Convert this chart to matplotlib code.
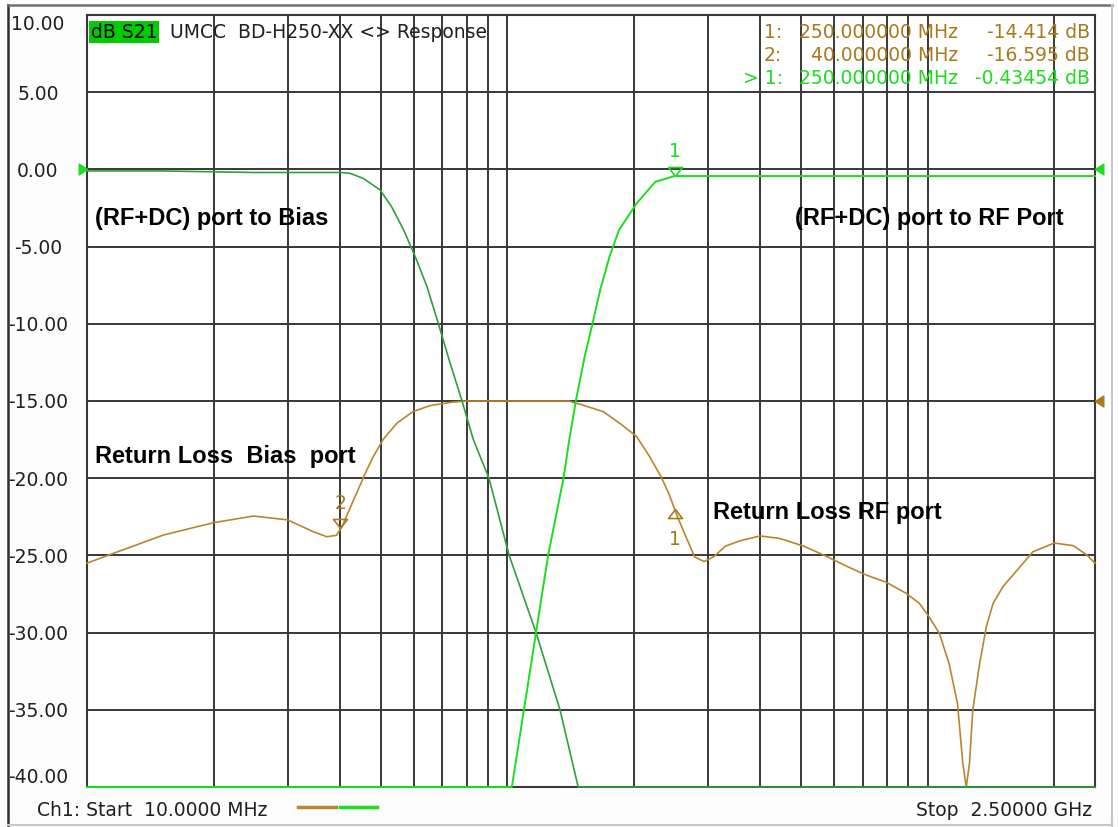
#VNA screenshot recreation: bias tee response
import numpy as np
import matplotlib
matplotlib.use("Agg")
import matplotlib.pyplot as plt
from matplotlib.lines import Line2D

W, H = 1118, 827

# frequency axis in MHz, levels in dB
bias_f = [10, 15, 25, 35, 40, 42.2, 45.4, 49.8, 53.0, 56.6, 60.4, 64.4, 68.5, 73.1,
          77.9, 83, 90.4, 101, 117, 133.4, 147.4, 2500]
bias_db = [-0.1, -0.1, -0.2, -0.2, -0.2, -0.25, -0.58, -1.33, -2.4, -3.9, -5.66, -7.6,
           -9.97, -12.56, -14.94, -17.5, -20, -25, -30, -35, -40, -40]

rf_f = [10, 102.5, 109.5, 117, 125, 136, 140.4, 145.5, 152.8, 159.4, 166.3, 175,
        184.3, 203, 225, 250, 2500]
rf_db = [-40, -40, -35, -30, -25, -20, -17.5, -15, -12.1, -10, -7.8, -5.65, -3.93,
         -2.2, -0.8, -0.43, -0.43]

rl_f = [10, 11.55, 15.2, 20, 24.9, 30, 34.5, 37.2, 39.2, 40.4, 43.8, 46.3, 48, 50.6,
        54.6, 59.6, 65.4, 73.7, 80, 140, 151, 169, 185, 203, 218, 232, 242, 254, 266,
        279, 294, 310, 330, 358, 399, 444, 507, 574, 641, 714, 797, 888, 955, 1007,
        1066, 1124, 1177, 1212, 1235, 1257, 1280, 1329, 1379, 1431, 1512, 1634, 1780,
        2000, 2220, 2390, 2500]
rl_db = [-25.5, -24.87, -23.68, -22.88, -22.45, -22.7, -23.46, -23.79, -23.7, -23.14,
         -20.96, -19.47, -18.6, -17.5, -16.44, -15.69, -15.3, -15.08, -15.0, -15.0,
         -15.26, -15.69, -16.44, -17.3, -18.6, -19.9, -20.98, -22.5, -23.8, -25.1,
         -25.4, -25.08, -24.4, -24.05, -23.74, -23.9, -24.4, -25.06, -25.7, -26.27,
         -26.74, -27.45, -28.1, -28.97, -30.05, -32.0, -34.58, -38.47, -40.0, -38.47,
         -35, -32, -29.6, -28.1, -27.0, -25.94, -24.76, -24.2, -24.37, -24.97, -25.5]

y_ticks = [10, 5, 0, -5, -10, -15, -20, -25, -30, -35, -40]
y_labels = ["10.00", "5.00", "0.00", "-5.00", "-10.00", "-15.00", "-20.00",
            "-25.00", "-30.00", "-35.00", "-40.00"]

readout = [("1:", "250.000000 MHz", "-14.414 dB"),
           ("2:", "40.000000 MHz", "-16.595 dB"),
           ("> 1:", "250.000000 MHz", "-0.43454 dB")]

DKGREEN = "#2FA040"
GREEN = "#1EDC1E"
BROWN = "#B8862E"
BROWN_TXT = "#A87A1C"
GRID = "#383838"
FS = 13.5

fig = plt.figure(figsize=(W / 100, H / 100), dpi=100)
fig.patch.set_facecolor("#FDFDFD")
ax = fig.add_axes([87 / W, 1 - 787 / H, (1095 - 87) / W, (787 - 15) / H])
ax.set_xscale("log")
ax.set_xlim(10, 2500)
ax.set_ylim(-40, 10)

# log grid
for dec in [10, 100, 1000]:
    for k in range(1, 10):
        v = dec * k
        if 10 < v < 2500:
            ax.axvline(v, color=GRID, lw=1.4, zorder=1)
for v in y_ticks[1:-1]:
    ax.axhline(v, color=GRID, lw=1.4, zorder=1)
for s in ax.spines.values():
    s.set_color(GRID)
    s.set_linewidth(1.5)

ax.set_xticks([])
ax.xaxis.set_minor_locator(matplotlib.ticker.NullLocator())
ax.set_yticks(y_ticks, y_labels)
ax.tick_params(axis="y", length=0, pad=49 * 0.72, labelsize=FS, labelcolor="#202020")
for lab in ax.get_yticklabels():
    lab.set_ha("center")
ax.get_yticklabels()[0].set_va("top")
ax.get_yticklabels()[-1].set_va("bottom")

# traces
ax.plot(rl_f, rl_db, color=BROWN, lw=1.2, zorder=3, clip_on=False)
ax.plot(bias_f, bias_db, color=DKGREEN, lw=1.2, zorder=4, clip_on=False)
ax.plot(rf_f, rf_db, color=GREEN, lw=1.4, zorder=5, clip_on=False)

# markers
down = [(0, 0), (-1, 1.3), (1, 1.3), (0, 0)]
up = [(0, 0), (-1, -1.3), (1, -1.3), (0, 0)]
ax.plot([250], [-0.43], marker=down, ms=13, mfc="none", mec=GREEN, mew=1.2, zorder=6)
ax.annotate("1", (250, -0.43), xytext=(0, 18), textcoords="offset points",
            ha="center", va="center", color=GREEN, fontsize=FS)
ax.plot([40], [-23.2], marker=down, ms=13, mfc="none", mec=BROWN_TXT, mew=1.2, zorder=6)
ax.annotate("2", (40, -23.2), xytext=(0, 17), textcoords="offset points",
            ha="center", va="center", color=BROWN_TXT, fontsize=FS)
ax.plot([250], [-22.0], marker=up, ms=13, mfc="none", mec=BROWN_TXT, mew=1.2, zorder=6)
ax.annotate("1", (250, -22.0), xytext=(0, -22), textcoords="offset points",
            ha="center", va="center", color=BROWN_TXT, fontsize=FS)

# reference level arrows
tip_r = [(0, 0), (-1, 0.65), (-1, -0.65), (0, 0)]
tip_l = [(0, 0), (1, 0.65), (1, -0.65), (0, 0)]
ax.plot([10], [0], marker=tip_r, ms=12, color=GREEN, clip_on=False, zorder=7)
ax.plot([2500], [0], marker=tip_l, ms=12, color=GREEN, clip_on=False, zorder=7)
ax.plot([2500], [-15], marker=tip_l, ms=12, color=BROWN_TXT, clip_on=False, zorder=7)

# labels on plot
bold = dict(fontsize=17, fontweight="bold", family="Liberation Sans", color="black",
            va="center", transform=ax.transAxes, zorder=8)
ax.text(0.008, 0.737, "(RF+DC) port to Bias", **bold)
ax.text(0.702, 0.737, "(RF+DC) port to RF Port", **bold)
ax.text(0.008, 0.4275, "Return Loss  Bias  port", **bold)
ax.text(0.621, 0.355, "Return Loss RF port", **bold)

# header
fig.text(91 / W, 1 - 32 / H, "dB S21", fontsize=FS, va="center", color="black",
         bbox=dict(boxstyle="square,pad=0.1", fc="#00CC00", ec="none"))
fig.text(170 / W, 1 - 32 / H, "UMCC  BD-H250-XX <> Response", fontsize=FS,
         va="center", color="#202020")
for i, (a, b, c) in enumerate(readout):
    col = GREEN if i == 2 else BROWN_TXT
    yy = 1 - (32 + 23.5 * i) / H
    fig.text((743 if i == 2 else 764) / W, yy, a, fontsize=FS, va="center", color=col)
    fig.text(958 / W, yy, b, fontsize=FS, va="center", ha="right", color=col)
    fig.text(1090 / W, yy, c, fontsize=FS, va="center", ha="right", color=col)

# footer
fig.text(37 / W, 1 - 810 / H, "Ch1: Start  10.0000 MHz", fontsize=FS, va="center",
         color="#202020")
fig.text(1092 / W, 1 - 810 / H, "Stop  2.50000 GHz", fontsize=FS, va="center",
         ha="right", color="#202020")
fig.add_artist(Line2D([298 / W, 336 / W], [1 - 807 / H] * 2, color=BROWN, lw=2.5))
fig.add_artist(Line2D([340 / W, 377 / W], [1 - 807 / H] * 2, color=GREEN, lw=2.5))

# window frame
fig.add_artist(Line2D([8 / W, 8 / W], [1 - 5 / H, 1 - 826 / H], color="#303030", lw=1.8))
fig.add_artist(Line2D([8 / W, 1112 / W], [1 - 5 / H] * 2, color="#707070", lw=1.8))
fig.add_artist(Line2D([1112 / W] * 2, [1 - 5 / H, 1 - 826 / H], color="#C8C8C8", lw=1.5))
fig.add_artist(Line2D([8 / W, 1112 / W], [1 - 825 / H] * 2, color="#C8C8C8", lw=1.5))

fig.savefig("out.png", dpi=100)
